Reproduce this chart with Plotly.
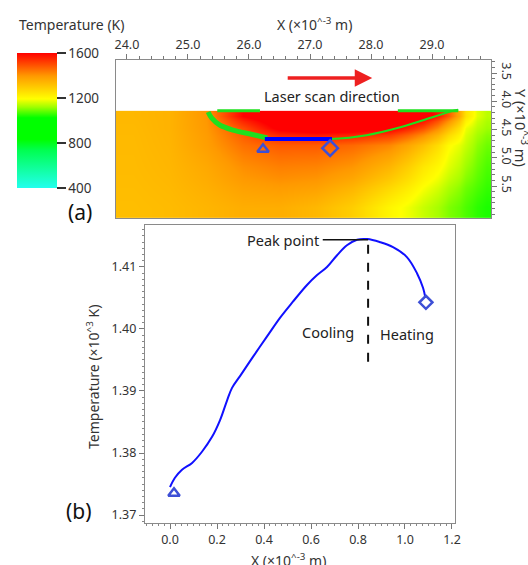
import plotly.graph_objects as go

# ---------------- Panel (a): temperature field ----------------
X_EDGES = [23.82, 24.4, 25.0, 25.6, 26.2, 26.8, 27.4, 28.0, 28.6, 29.1, 29.45, 29.65, 29.82, 29.97]
Y_EDGES = [4.17, 4.35, 4.6, 4.95, 5.35, 5.7, 6.07]
TEMP_FIELD = [
    [1335, 1345, 1400, 1600, 1680, 1720, 1720, 1700, 1650, 1480, 1250, 1170, 1140],
    [1332, 1345, 1395, 1500, 1620, 1660, 1650, 1620, 1500, 1330, 1180, 1140, 1120],
    [1330, 1342, 1385, 1450, 1480, 1480, 1460, 1420, 1320, 1200, 1150, 1110, 1090],
    [1328, 1338, 1365, 1410, 1430, 1425, 1400, 1340, 1240, 1170, 1120, 1090, 1070],
    [1325, 1333, 1352, 1380, 1390, 1380, 1340, 1270, 1190, 1130, 1090, 1070, 1055],
    [1322, 1328, 1340, 1355, 1355, 1335, 1290, 1210, 1150, 1100, 1070, 1050, 1040],
]
CBAR_TICKS = [400, 800, 1200, 1600]
Y_TICKS_A = [3.5, 4.0, 4.5, 5.0, 5.5]

# melt pool boundary (thick left part, thin right part)
POOL_LEFT_X = [25.33, 25.39, 25.52, 25.74, 26.02, 26.30]
POOL_LEFT_Y = [4.19, 4.30, 4.42, 4.51, 4.58, 4.65]
POOL_RIGHT_X = [26.30, 26.8, 27.33, 27.93, 28.48, 29.02, 29.34, 29.43]
POOL_RIGHT_Y = [4.65, 4.67, 4.67, 4.60, 4.46, 4.28, 4.17, 4.15]
SURF_SEG1_X = [25.48, 26.18]
SURF_SEG2_X = [28.44, 29.43]
SURFACE_Y = 4.17

# sampling line and its end markers
PROBE_X = [26.26, 27.36]
PROBE_Y = [4.67, 4.67]
START_MARK = (26.23, 4.85)
END_MARK = (27.33, 4.83)

ARROW_FROM = (26.61, 3.59)
ARROW_TO = (28.02, 3.59)

# ---------------- Panel (b): temperature along line ----------------
DIST = [0.0, 0.021, 0.051, 0.094, 0.136, 0.179, 0.213, 0.243, 0.264, 0.298, 0.353,
        0.413, 0.468, 0.523, 0.583, 0.626, 0.668, 0.711, 0.753, 0.796, 0.84, 0.894,
        0.949, 1.008, 1.051, 1.077, 1.087]
TEMP_K = [1.3745, 1.3760, 1.3773, 1.3784, 1.3802, 1.3826, 1.3853, 1.3885, 1.3905, 1.3924,
          1.3955, 1.3988, 1.4018, 1.4044, 1.4071, 1.4087, 1.4100, 1.4119, 1.4135, 1.4144,
          1.4145, 1.4140, 1.4132, 1.4116, 1.4090, 1.4066, 1.4050]
B_START_MARK = (0.017, 1.3735)
B_END_MARK = (1.089, 1.4043)
PEAK_X = 0.843
PEAK_Y = 1.4144
PEAK_LABEL_END_X = 0.65
DASH_BOTTOM_Y = 1.394

W, H = 528, 565
FONT = "Noto Sans"
BLUE_MK = "#3d4fd6"
GREEN = "#1ee01e"


def px(v):
    return v / W


def py(v):
    return 1 - v / H


colorscale = [
    [0.0, "#22ffee"],
    [0.28, "#00ff50"],
    [0.36, "#00ff00"],
    [0.52, "#00ff00"],
    [0.60, "#a0ff00"],
    [0.66, "#ffff00"],
    [0.83, "#ff9900"],
    [1.0, "#ff0000"],
]

fig = go.Figure()

fig.add_trace(go.Heatmap(
    x=X_EDGES, y=Y_EDGES, z=TEMP_FIELD, zmin=400, zmax=1600, zsmooth="best",
    colorscale=colorscale, xaxis="x", yaxis="y", hoverinfo="skip",
    colorbar=dict(
        x=px(17), xanchor="left", y=py(188), yanchor="bottom",
        len=(188 - 53) / H, lenmode="fraction", thickness=40,
        xpad=0, ypad=0, outlinewidth=0,
        tickvals=CBAR_TICKS, ticks="outside", ticklen=9, tickwidth=1.5,
        tickcolor="#333", tickfont=dict(family=FONT, size=13.5, color="#333"),
    ),
))

for xs, ys, w in [(POOL_LEFT_X, POOL_LEFT_Y, 5), (POOL_RIGHT_X, POOL_RIGHT_Y, 2),
                  (SURF_SEG1_X, [SURFACE_Y] * 2, 3), (SURF_SEG2_X, [SURFACE_Y] * 2, 3)]:
    fig.add_trace(go.Scatter(x=xs, y=ys, mode="lines", line=dict(color=GREEN, width=w, shape="spline"),
                             xaxis="x", yaxis="y", showlegend=False, hoverinfo="skip"))

fig.add_trace(go.Scatter(x=PROBE_X, y=PROBE_Y, mode="lines", line=dict(color="#0000ff", width=4),
                         xaxis="x", yaxis="y", showlegend=False))
fig.add_trace(go.Scatter(x=[START_MARK[0]], y=[START_MARK[1]], mode="markers",
                         marker=dict(symbol="triangle-up-open", size=10, color=BLUE_MK, line=dict(width=2.5)),
                         xaxis="x", yaxis="y", showlegend=False))
fig.add_trace(go.Scatter(x=[END_MARK[0]], y=[END_MARK[1]], mode="markers",
                         marker=dict(symbol="diamond-open", size=12, color=BLUE_MK, line=dict(width=2.5)),
                         xaxis="x", yaxis="y", showlegend=False))

# panel (b)
fig.add_trace(go.Scatter(x=DIST, y=TEMP_K, mode="lines", line=dict(color="#1010ff", width=2, shape="spline"),
                         xaxis="x2", yaxis="y2", showlegend=False))
fig.add_trace(go.Scatter(x=[B_START_MARK[0]], y=[B_START_MARK[1]], mode="markers",
                         marker=dict(symbol="triangle-up-open", size=10, color=BLUE_MK, line=dict(width=2.5)),
                         xaxis="x2", yaxis="y2", showlegend=False))
fig.add_trace(go.Scatter(x=[B_END_MARK[0]], y=[B_END_MARK[1]], mode="markers",
                         marker=dict(symbol="diamond-open", size=10, color=BLUE_MK, line=dict(width=2.5)),
                         xaxis="x2", yaxis="y2", showlegend=False))

tickfont = dict(family=FONT, size=12.5, color="#333")
axis_common = dict(showgrid=False, zeroline=False, showline=True, linecolor="#8a8a8a", linewidth=1.2,
                   mirror=True, ticks="outside", ticklen=5, tickcolor="#777", tickfont=tickfont,
                   automargin=False)

fig.update_layout(
    width=W, height=H, margin=dict(l=0, r=0, t=0, b=0),
    paper_bgcolor="white", plot_bgcolor="white", showlegend=False,
    font=dict(family=FONT, color="#222"),
    xaxis=dict(domain=[px(116), px(491)], range=[23.82, 29.967], side="top", anchor="y",
               dtick=1, tick0=24, tickformat=".1f",
               minor=dict(dtick=0.2, ticks="outside", ticklen=3, tickcolor="#777"), **axis_common),
    yaxis=dict(domain=[py(218), py(60)], range=[6.066, 3.27], side="right", anchor="x",
               tickvals=Y_TICKS_A, tickformat=".1f", tickangle=90,
               minor=dict(dtick=0.1, ticks="outside", ticklen=3, tickcolor="#777"), **axis_common),
    xaxis2=dict(domain=[px(145), px(455)], range=[-0.1064, 1.2128], anchor="y2",
                dtick=0.2, tick0=0, tickformat=".1f",
                minor=dict(dtick=0.025, ticks="outside", ticklen=2, tickcolor="#888"), **axis_common),
    yaxis2=dict(domain=[py(523), py(225)], range=[1.36871, 1.41677], anchor="x2",
                dtick=0.01, tick0=1.37, tickformat=".2f",
                minor=dict(dtick=0.001, ticks="outside", ticklen=2, tickcolor="#888"), **axis_common),
)

ann_font = dict(family=FONT, size=14.5, color="#222")
annotations = [
    dict(text="Temperature (K)", x=px(17), y=py(25), xref="paper", yref="paper",
         xanchor="left", yanchor="middle", showarrow=False, font=dict(family=FONT, size=14, color="#333")),
    dict(text="X (×10<sup>^-3</sup> m)", x=px(314), y=py(24), xref="paper", yref="paper",
         xanchor="center", yanchor="middle", showarrow=False, font=dict(family=FONT, size=14, color="#333")),
    dict(text="Y (×10<sup>^-3</sup> m)", x=px(522), y=py(128), xref="paper", yref="paper",
         xanchor="center", yanchor="middle", textangle=90, showarrow=False,
         font=dict(family=FONT, size=14.5, color="#333")),
    dict(text="Laser scan direction", x=px(332), y=py(96), xref="paper", yref="paper",
         xanchor="center", yanchor="middle", showarrow=False, font=ann_font),
    dict(text="", x=ARROW_TO[0], y=ARROW_TO[1], ax=ARROW_FROM[0], ay=ARROW_FROM[1],
         xref="x", yref="y", axref="x", ayref="y", showarrow=True,
         arrowhead=2, arrowsize=1, arrowwidth=3.5, arrowcolor="#ee2020"),
    dict(text="(a)", x=px(80), y=py(212), xref="paper", yref="paper", xanchor="center", yanchor="middle",
         showarrow=False, font=dict(family=FONT, size=21, color="#111")),
    dict(text="(b)", x=px(79), y=py(511), xref="paper", yref="paper", xanchor="center", yanchor="middle",
         showarrow=False, font=dict(family=FONT, size=21, color="#111")),
    dict(text="Temperature (×10<sup>^3</sup> K)", x=px(93), y=py(377), xref="paper", yref="paper",
         xanchor="center", yanchor="middle", textangle=-90, showarrow=False,
         font=dict(family=FONT, size=14, color="#333")),
    dict(text="X (×10<sup>^-3</sup> m)", x=px(288), y=py(560), xref="paper", yref="paper",
         xanchor="center", yanchor="middle", showarrow=False, font=dict(family=FONT, size=14, color="#333")),
    dict(text="Peak point", x=PEAK_LABEL_END_X, y=PEAK_Y, xref="x2", yref="y2",
         xanchor="right", yanchor="middle", showarrow=False, xshift=-2, font=ann_font),
    dict(text="Cooling", x=0.672, y=1.3995, xref="x2", yref="y2", xanchor="center", yanchor="middle",
         showarrow=False, font=ann_font),
    dict(text="Heating", x=1.009, y=1.3992, xref="x2", yref="y2", xanchor="center", yanchor="middle",
         showarrow=False, font=ann_font),
]
fig.update_layout(annotations=annotations)

fig.update_layout(shapes=[
    dict(type="line", xref="x2", yref="y2", x0=PEAK_LABEL_END_X, x1=PEAK_X, y0=PEAK_Y, y1=PEAK_Y,
         line=dict(color="#111", width=1.5)),
    dict(type="line", xref="x2", yref="y2", x0=PEAK_X, x1=PEAK_X, y0=PEAK_Y - 0.0008, y1=DASH_BOTTOM_Y,
         line=dict(color="#111", width=2, dash="dash")),
])

fig.write_html("out.html", config={"displayModeBar": False},
               post_script="document.body.style.margin='0px';")
